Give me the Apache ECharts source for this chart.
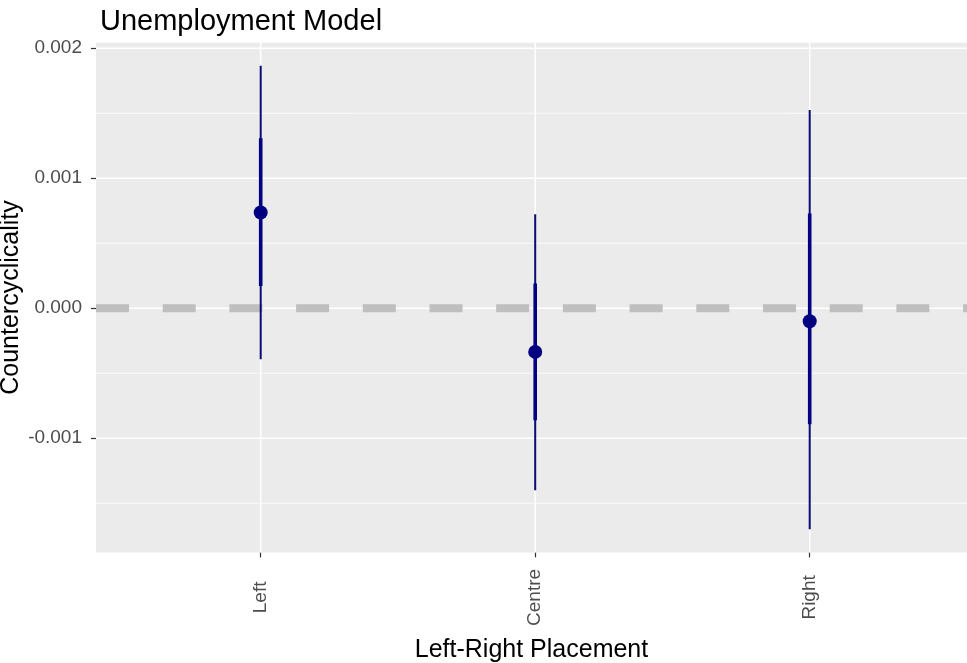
<!DOCTYPE html>
<html>
<head>
<meta charset="utf-8">
<script src="https://cdn.jsdelivr.net/npm/echarts@6/dist/echarts.min.js"></script>
<style>html,body{margin:0;padding:0;background:#fff;}#c{width:967px;height:663px;}</style>
</head>
<body>
<div id="c"></div>
<script>
const categories = ['Left', 'Centre', 'Right'];
const estimates = [0.000736, -0.000336, -0.000100];
const lower95 = [-0.000392, -0.00140, -0.00170];
const upper95 = [0.001864, 0.000723, 0.001525];
const lower90 = [0.000171, -0.000862, -0.000892];
const upper90 = [0.001308, 0.000190, 0.000728];
const yMajor = [-0.001, 0, 0.001, 0.002];
const yMinor = [-0.0015, -0.0005, 0.0005, 0.0015];
const xPositions = [0, 1, 2];
const refLine = [0];

const FONT = 'Liberation Sans';
const chart = echarts.init(document.getElementById('c'), null, {renderer: 'canvas'});

function hLines(values, style, z) {
  return {
    type: 'custom', z: z, silent: true, clip: false,
    data: values.map(v => [0, v]),
    renderItem: function (params, api) {
      const cs = params.coordSys;
      const y = api.coord([0, api.value(1)])[1];
      return {type: 'line', shape: {x1: cs.x, y1: y, x2: cs.x + cs.width, y2: y}, style: style};
    }
  };
}
function vLines(values, style, z) {
  return {
    type: 'custom', z: z, silent: true, clip: false,
    data: values.map(v => [v, 0]),
    renderItem: function (params, api) {
      const cs = params.coordSys;
      const x = api.coord([api.value(0), 0])[0];
      return {type: 'line', shape: {x1: x, y1: cs.y, x2: x, y2: cs.y + cs.height}, style: style};
    }
  };
}

const barData = categories.map((c, i) => [i, lower95[i], upper95[i], lower90[i], upper90[i]]);
const pointData = categories.map((c, i) => [i, estimates[i]]);

const option = {
  animation: false,
  textStyle: {fontFamily: FONT},
  title: {
    text: 'Unemployment Model',
    left: 95, top: 2,
    textStyle: {fontFamily: FONT, fontSize: 29, fontWeight: 'normal', color: '#000'}
  },
  grid: {
    left: 96, right: 0, top: 42.7, bottom: 110.6,
    outerBoundsMode: 'none', containLabel: false,
    show: true, backgroundColor: '#EBEBEB', borderWidth: 0
  },
  xAxis: {
    type: 'value',
    min: -0.6, max: 2.573,
    name: 'Left-Right Placement',
    nameLocation: 'middle',
    nameGap: 85,
    nameMoveOverlap: false,
    nameTextStyle: {fontFamily: FONT, fontSize: 25, color: '#000'},
    axisLine: {show: false, onZero: false},
    axisTick: {show: true, length: 5, lineStyle: {color: '#333333', width: 1.2}, customValues: xPositions},
    axisLabel: {
      show: true, customValues: xPositions, rotate: 90, align: 'center', verticalAlign: 'middle',
      margin: 45, fontFamily: FONT, fontSize: 19, color: '#4D4D4D',
      formatter: v => categories[Math.round(v)] || ''
    },
    splitLine: {show: false}
  },
  yAxis: {
    type: 'value',
    min: -0.001878, max: 0.002042,
    name: 'Countercyclicality',
    nameLocation: 'middle',
    nameGap: 72,
    nameRotate: 90,
    nameMoveOverlap: false,
    nameTextStyle: {fontFamily: FONT, fontSize: 25, color: '#000'},
    axisLine: {show: false, onZero: false},
    axisTick: {show: true, length: 5, lineStyle: {color: '#333333', width: 1.2}, customValues: yMajor},
    axisLabel: {
      show: true, customValues: yMajor, margin: 14, fontFamily: FONT, fontSize: 19, color: '#4D4D4D',
      formatter: v => v.toFixed(3)
    },
    splitLine: {show: false}
  },
  series: [
    hLines(yMinor, {stroke: '#FFFFFF', lineWidth: 0.8}, 1),
    hLines(yMajor, {stroke: '#FFFFFF', lineWidth: 1.5}, 1),
    vLines(xPositions, {stroke: '#FFFFFF', lineWidth: 1.5}, 1),
    hLines(refLine, {stroke: '#BFBFBF', lineWidth: 8, lineDash: [33, 33.7], lineCap: 'butt'}, 2),
    {
      type: 'custom', z: 3, silent: true,
      data: barData,
      encode: {x: 0, y: [1, 2, 3, 4]},
      renderItem: function (params, api) {
        const x = api.value(0);
        const p1 = api.coord([x, api.value(1)]);
        const p2 = api.coord([x, api.value(2)]);
        const p3 = api.coord([x, api.value(3)]);
        const p4 = api.coord([x, api.value(4)]);
        return {
          type: 'group',
          children: [
            {type: 'line', shape: {x1: p1[0], y1: p1[1], x2: p2[0], y2: p2[1]}, style: {stroke: '#0a0a70', lineWidth: 2}},
            {type: 'line', shape: {x1: p3[0], y1: p3[1], x2: p4[0], y2: p4[1]}, style: {stroke: '#000080', lineWidth: 3.6}}
          ]
        };
      }
    },
    {
      type: 'scatter', z: 4, silent: true,
      data: pointData,
      symbol: 'circle', symbolSize: 14,
      itemStyle: {color: '#000080', opacity: 1}
    }
  ]
};
chart.setOption(option);
</script>
</body>
</html>
